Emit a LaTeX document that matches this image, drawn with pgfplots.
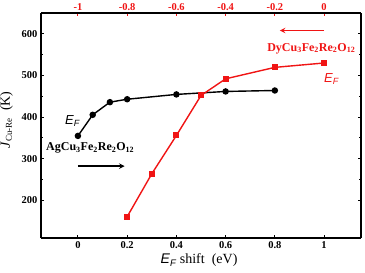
\documentclass[border=0pt]{standalone}
\usepackage{pgfplots}
\pgfplotsset{compat=1.18}
\usepackage{fontspec}
\setmainfont{Liberation Serif}
\newfontfamily\arial{Liberation Sans}
\definecolor{myred}{RGB}{240,20,20}
\begin{document}
\begin{tikzpicture}
\begin{axis}[
  name=main,
  scale only axis, width=320pt, height=225pt,
  xmin=-0.15, xmax=1.15, ymin=110, ymax=650,
  axis x line*=bottom, axis y line*=box,
  xtick={0,0.2,0.4,0.6,0.8,1}, ytick={200,300,400,500,600},
  minor y tick num=1,
  tick align=inside, major tick length=3pt, minor tick length=2pt,
  tick label style={font=\fontsize{10.5}{11}\selectfont\bfseries},
  /pgf/number format/assume math mode=true,
  xticklabel style={/pgf/number format/fixed},
  ylabel={\fontsize{14}{15}\selectfont\textit{J}\textsubscript{\fontsize{9}{10}\selectfont Cu-Re}\ \ (K)},
  xlabel={\fontsize{14}{15}\selectfont{\arial\itshape E\textsubscript{\fontsize{9.5}{10}\selectfont F}} shift\ \ (eV)},
  ylabel style={at={(axis description cs:-0.108,0.524)}, anchor=center},
  xlabel style={at={(axis description cs:0.494,-0.1)}, anchor=center},
  axis line style={line width=1.1pt},
  every tick/.style={line width=1pt},
  clip=false,
]
\addplot[black, line width=1.4pt, mark=*, mark size=2.5pt] coordinates {
(0,355) (0.06,405.6) (0.13,436) (0.2,443) (0.4,454.6) (0.6,461.7) (0.8,464)};
\addplot[myred, line width=1.4pt, mark=square*, mark size=2.3pt] coordinates {
(0.2,161) (0.3,264) (0.4,356) (0.5,452) (0.6,492) (0.8,519.5) (1.0,530)};
\node[font=\fontsize{13}{14}\selectfont\arial\itshape] at (axis cs:-0.022,390) {E\textsubscript{\fontsize{9}{10}\selectfont F}};
\node[font=\fontsize{13}{14}\selectfont\arial\itshape, text=myred] at (axis cs:1.03,492) {E\textsubscript{\fontsize{9}{10}\selectfont F}};
\node[font=\fontsize{12}{13}\selectfont\bfseries, text=myred] at (axis cs:0.948,565) {DyCu\textsubscript{3}Fe\textsubscript{2}Re\textsubscript{2}O\textsubscript{12}};
\node[font=\fontsize{12}{13}\selectfont\bfseries] at (axis cs:0.05,327) {AgCu\textsubscript{3}Fe\textsubscript{2}Re\textsubscript{2}O\textsubscript{12}};
\draw[myred, line width=1.5pt, -stealth] (axis cs:1.0,608) -- (axis cs:0.82,608);
\draw[black, line width=1.5pt, -stealth] (axis cs:0,282.5) -- (axis cs:0.19,282.5);
\end{axis}
\begin{axis}[
  scale only axis, width=320pt, height=225pt,
  xmin=-1.15, xmax=0.15, ymin=110, ymax=650,
  axis x line*=top, axis y line=none,
  xtick={-1,-0.8,-0.6,-0.4,-0.2,0},
  tick align=inside, major tick length=3pt,
  x axis line style={black, line width=1.1pt},
  xtick style={myred, line width=1pt},
  tick label style={font=\fontsize{10.5}{11}\selectfont\bfseries, text=myred},
  xticklabel style={yshift=-1pt},
  /pgf/number format/assume math mode=true,
  xticklabel style={/pgf/number format/fixed},
]
\end{axis}
\pgfresetboundingbox
\path[use as bounding box] ([xshift=-41pt,yshift=-35pt]main.south west) rectangle ([xshift=4pt,yshift=13pt]main.north east);
\end{tikzpicture}
\end{document}
